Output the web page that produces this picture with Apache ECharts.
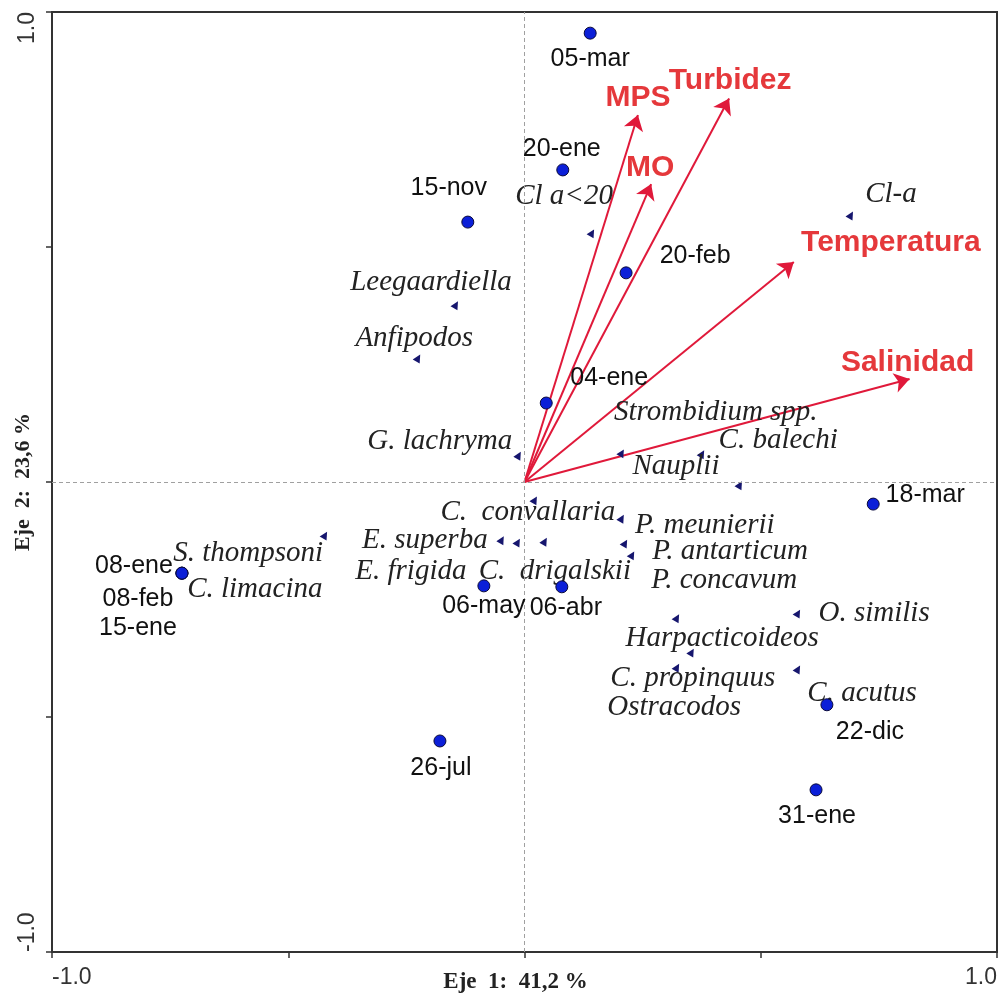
<!DOCTYPE html>
<html><head><meta charset="utf-8">
<script src="https://cdn.jsdelivr.net/npm/echarts@6/dist/echarts.min.js"></script>
<style>html,body{margin:0;padding:0;background:#fff}#c{width:1000px;height:998px}</style>
</head><body><div id="c"></div>
<script>
// ---- data ----
const siteNames = ['05-mar','20-ene','15-nov','20-feb','04-ene','18-mar','08-ene','08-feb','15-ene','06-may','06-abr','22-dic','26-jul','31-ene'];
const siteX = [0.139, 0.081, -0.120, 0.215, 0.046, 0.738, -0.725, -0.725, -0.725, -0.086, 0.079, 0.640, -0.179, 0.617];
const siteY = [0.955, 0.664, 0.553, 0.445, 0.168, -0.047, -0.194, -0.194, -0.194, -0.221, -0.223, -0.474, -0.551, -0.655];

const speciesNames = ['Cl a<20','Cl-a','Leegaardiella','Anfipodos','G. lachryma','Strombidium spp.','C. balechi','Nauplii',
  'C.  convallaria','P. meunierii','P. antarticum','P. concavum','E. superba','E. frigida','C.  drigalskii',
  'S. thompsoni','C. limacina','O. similis','Harpacticoideos','C. propinquus','Ostracodos','C. acutus'];
const speciesX = [0.143, 0.691, -0.145, -0.225, -0.012, 0.206, 0.376, 0.456, 0.022, 0.206, 0.213, 0.228, -0.048, -0.014, 0.043,
  -0.422, -0.721, 0.579, 0.323, 0.354, 0.323, 0.579];
const speciesY = [0.530, 0.568, 0.377, 0.264, 0.057, 0.062, 0.060, -0.006, -0.038, -0.077, -0.130, -0.155, -0.123, -0.128, -0.126,
  -0.113, -0.194, -0.279, -0.289, -0.362, -0.394, -0.398];

const envNames = ['MPS','Turbidez','MO','Temperatura','Salinidad'];
const envX = [0.240, 0.433, 0.268, 0.570, 0.815];
const envY = [0.781, 0.816, 0.634, 0.468, 0.219];

const axisTickLabels = ['-1.0', '1.0'];
const axisNames = ['Eje  1:  41,2 %', 'Eje  2:  23,6 %'];

// ---- label placement (styling) ----
const siteLabelOffset = [[0,26],[-1,-21],[-19,-34],[69,-17],[63,-25],[52,-9],[-48,-7],[-44,26],[-44,55],[0,20],[4,21],[43,27],[1,27],[1,26]];
const speciesLabelOffset = [[-28,-37],[40,-21],[-25,-22],[-4,-20],[-79,-14],[94,-40],[76,-13],[-64,-18],
  [-7,13],[83,7],[105,8],[92,26],[-77,1],[-107,29],[10,30],[-77,18],[71,16],[76,0],[45,21],[1,26],[-3,40],[64,24]];
const envLabelOffset = [[0,-17],[1,-18],[-1,-16],[97,-19],[-2,-16]];

const fmt = v => (v === -1 || v === 1) ? axisTickLabels[v === -1 ? 0 : 1] : '';

const axisCommon = {
  type: 'value', min: -1, max: 1, interval: 0.5,
  axisLine: { show: true, onZero: false, lineStyle: { color: '#333', width: 2 } },
  axisTick: { show: true, inside: false, length: 6, lineStyle: { color: '#333', width: 1.5 } },
  splitLine: { show: false },
  nameLocation: 'middle',
  nameMoveOverlap: false
};

const option = {
  animation: false,
  backgroundColor: '#fff',
  grid: { left: 52, right: 3, top: 12, bottom: 46, show: true, borderColor: '#333', borderWidth: 2,
    containLabel: false, outerBoundsMode: 'none' },
  xAxis: Object.assign({}, axisCommon, {
    name: axisNames[0], nameGap: 19,
    nameTextStyle: { fontFamily: 'Liberation Serif', fontWeight: 'bold', fontSize: 23, color: '#222', padding: [0, 18, 0, 0] },
    axisLabel: { formatter: fmt, fontSize: 23, color: '#333', fontFamily: 'Liberation Sans', margin: 14,
      alignMinLabel: 'left', alignMaxLabel: 'right' }
  }),
  yAxis: Object.assign({}, axisCommon, {
    name: axisNames[1], nameGap: 18, nameRotate: 90,
    nameTextStyle: { fontFamily: 'Liberation Serif', fontWeight: 'bold', fontSize: 22, color: '#222' },
    axisLabel: { formatter: fmt, fontSize: 23, color: '#333', fontFamily: 'Liberation Sans', margin: 13, rotate: 90,
      alignMinLabel: 'left', alignMaxLabel: 'right' }
  }),
  series: [
    {
      type: 'scatter', data: [[0, 0]], symbolSize: 0, silent: true, z: 1,
      markLine: { silent: true, symbol: 'none', animation: false, label: { show: false },
        lineStyle: { color: '#a0a0a0', type: [4, 3], width: 1 },
        data: [{ xAxis: 0 }, { yAxis: 0 }] }
    },
    {
      type: 'lines', coordinateSystem: 'cartesian2d', z: 3,
      symbol: ['none', 'arrow'], symbolSize: 15,
      lineStyle: { color: '#e0193a', width: 2, opacity: 1, curveness: 0 },
      data: envNames.map((n, i) => ({ coords: [[0, 0], [envX[i], envY[i]]] }))
    },
    {
      type: 'scatter', z: 5, symbolSize: 0, itemStyle: { color: 'rgba(0,0,0,0)', opacity: 1 },
      data: envNames.map((n, i) => ({
        value: [envX[i], envY[i]], name: n,
        label: { show: true, position: 'inside', offset: envLabelOffset[i], formatter: n, opacity: 1,
          fontFamily: 'Liberation Sans', fontWeight: 'bold', fontSize: 30, color: '#e5383b' }
      }))
    },
    {
      type: 'scatter', z: 4, symbol: 'triangle', symbolSize: 8, symbolRotate: -30,
      itemStyle: { color: '#16166e', opacity: 1 },
      data: speciesNames.map((n, i) => ({
        value: [speciesX[i], speciesY[i]], name: n,
        label: { show: true, position: 'inside', offset: speciesLabelOffset[i], formatter: n, opacity: 1,
          fontFamily: 'Liberation Serif', fontStyle: 'italic', fontSize: 29, color: '#222' }
      }))
    },
    {
      type: 'scatter', z: 6, symbol: 'circle', symbolSize: 12,
      itemStyle: { color: '#0b1fd8', borderColor: '#0a0a3c', borderWidth: 1, opacity: 1 },
      data: siteNames.map((n, i) => ({
        value: [siteX[i], siteY[i]], name: n,
        label: { show: true, position: 'inside', offset: siteLabelOffset[i], formatter: n, opacity: 1,
          fontFamily: 'Liberation Sans', fontSize: 25, color: '#111' }
      }))
    }
  ]
};
const chart = echarts.init(document.getElementById('c'));
chart.setOption(option);
</script></body></html>
